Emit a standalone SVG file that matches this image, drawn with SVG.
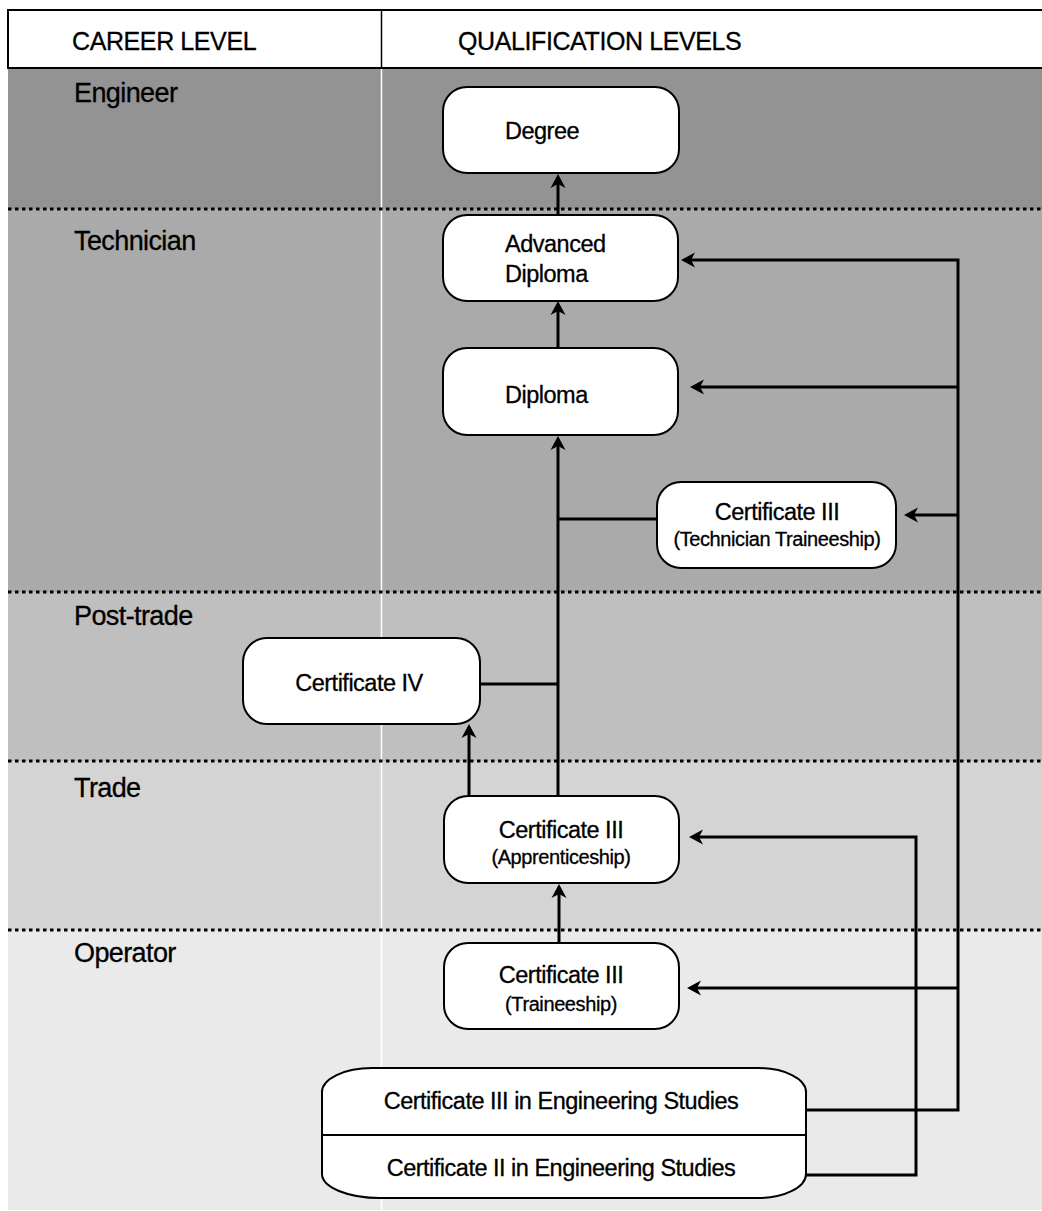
<svg xmlns="http://www.w3.org/2000/svg" width="1042" height="1211" viewBox="0 0 1042 1211">
<style>
text{font-family:"Liberation Sans",Arial,Helvetica,sans-serif;fill:#000;stroke:#000;stroke-width:0.3}
.hdr{font-size:25px;letter-spacing:-0.4px}
.lvl{font-size:27px;letter-spacing:-0.6px}
.t{font-size:23.5px;letter-spacing:-0.5px}
.s{font-size:20px;letter-spacing:-0.4px}
.box{fill:#fff;stroke:#000;stroke-width:2}
.dot{stroke:#000;stroke-width:3;stroke-dasharray:3.5 3.5;fill:none}
.con path{fill:none;stroke:#000;stroke-width:3;stroke-linejoin:miter}
.arr{marker-end:url(#arr)}
</style>
<defs>
<marker id="arr" markerUnits="userSpaceOnUse" markerWidth="16" markerHeight="16" viewBox="0 -8 16 16" refX="4" refY="0" orient="auto">
<path d="M14,0 L0,-7.5 L4,0 L0,7.5 Z" fill="#000"/>
</marker>
</defs>
<rect width="1042" height="1211" fill="#fff"/>
<g id="bands">
<rect x="8" y="68" width="1034" height="141" fill="#939393"/>
<rect x="8" y="209" width="1034" height="383" fill="#aaaaaa"/>
<rect x="8" y="592" width="1034" height="169" fill="#bfbfbf"/>
<rect x="8" y="761" width="1034" height="169" fill="#d4d4d4"/>
<rect x="8" y="930" width="1034" height="280" fill="#eaeaea"/>
<line x1="381.5" y1="68" x2="381.5" y2="1210" stroke="#fff" stroke-width="1.5"/>
<line class="dot" x1="8" y1="209" x2="1042" y2="209"/>
<line class="dot" x1="8" y1="592" x2="1042" y2="592"/>
<line class="dot" x1="8" y1="761" x2="1042" y2="761"/>
<line class="dot" x1="8" y1="930" x2="1042" y2="930"/>
</g>
<g id="header">
<path d="M1042,10 H8 V68 H1042" fill="none" stroke="#000" stroke-width="2"/>
<line x1="381.5" y1="10" x2="381.5" y2="68" stroke="#000" stroke-width="1.5"/>
<text class="hdr" x="72" y="50">CAREER LEVEL</text>
<text class="hdr" x="458" y="50">QUALIFICATION LEVELS</text>
</g>
<g id="levels">
<text class="lvl" x="74" y="102">Engineer</text>
<text class="lvl" x="74" y="250">Technician</text>
<text class="lvl" x="74" y="625">Post-trade</text>
<text class="lvl" x="74" y="797">Trade</text>
<text class="lvl" x="74" y="962">Operator</text>
</g>
<g id="connectors" class="con">
<path class="arr" d="M558,215 V184"/>
<path class="arr" d="M558,348 V311"/>
<path class="arr" d="M558,796 V446"/>
<path d="M480,684 H558"/>
<path d="M657,519 H558"/>
<path class="arr" d="M469,796 V734"/>
<path class="arr" d="M559,943 V894"/>
<path class="arr" d="M806,1110 H958 V260 H691"/>
<path class="arr" d="M958,387 H700"/>
<path class="arr" d="M958,515 H914"/>
<path class="arr" d="M958,988 H697"/>
<path class="arr" d="M806,1175 H916 V837 H699"/>
</g>
<g id="degree">
<rect class="box" x="443" y="87" width="236" height="86" rx="24"/>
<text class="t" x="505" y="139">Degree</text>
</g>
<g id="advanced-diploma">
<rect class="box" x="443" y="215" width="235" height="86" rx="24"/>
<text class="t" x="505" y="252">Advanced</text>
<text class="t" x="505" y="282">Diploma</text>
</g>
<g id="diploma">
<rect class="box" x="443" y="348" width="235" height="87" rx="24"/>
<text class="t" x="505" y="403">Diploma</text>
</g>
<g id="cert3-technician">
<rect class="box" x="657" y="482" width="239" height="86" rx="24"/>
<text class="t" x="777" y="520" text-anchor="middle">Certificate III</text>
<text class="s" x="777" y="546" text-anchor="middle">(Technician Traineeship)</text>
</g>
<g id="cert4">
<rect class="box" x="243" y="638" width="237" height="86" rx="24"/>
<text class="t" x="359" y="691" text-anchor="middle">Certificate IV</text>
</g>
<g id="cert3-apprenticeship">
<rect class="box" x="444" y="796" width="235" height="87" rx="24"/>
<text class="t" x="561" y="838" text-anchor="middle">Certificate III</text>
<text class="s" x="561" y="864" text-anchor="middle">(Apprenticeship)</text>
</g>
<g id="cert3-traineeship">
<rect class="box" x="444" y="943" width="235" height="86" rx="24"/>
<text class="t" x="561" y="983" text-anchor="middle">Certificate III</text>
<text class="s" x="561" y="1011" text-anchor="middle">(Traineeship)</text>
</g>
<g id="engineering-studies">
<path class="box" d="M372,1068 H758 A48,24 0 0 1 806,1092 V1174 A48,24 0 0 1 758,1198 H380 A58,24 0 0 1 322,1174 V1092 A50,24 0 0 1 372,1068 Z"/>
<line x1="322" y1="1135" x2="806" y2="1135" stroke="#000" stroke-width="2"/>
<text class="t" x="561" y="1109" text-anchor="middle">Certificate III in Engineering Studies</text>
<text class="t" x="561" y="1176" text-anchor="middle">Certificate II in Engineering Studies</text>
</g>
</svg>
